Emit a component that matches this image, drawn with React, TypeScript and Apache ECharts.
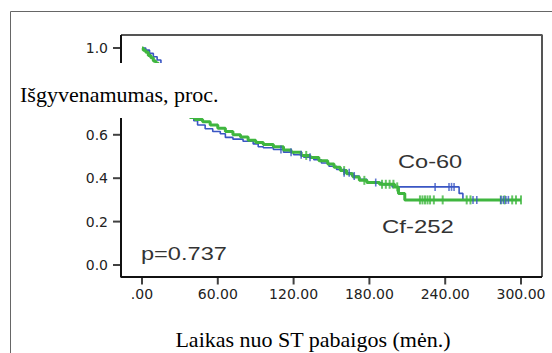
import React, { useEffect, useRef } from "react";
import * as echarts from "echarts";

// Kaplan-Meier curves (time in months, survival proportion after each event)
const cfTimes = [0, 1, 3, 5, 7, 9, 11, 13, 16, 19, 22, 26, 30, 34, 38, 42, 48, 54, 60, 66, 72, 78, 84, 90, 96, 104, 112, 118, 126, 133, 140, 147, 152, 157, 162, 167, 172, 178, 188, 200, 203, 208];
const cfSurv = [1.0, 0.99, 0.98, 0.965, 0.955, 0.94, 0.93, 0.91, 0.87, 0.83, 0.79, 0.75, 0.72, 0.7, 0.68, 0.67, 0.66, 0.645, 0.63, 0.615, 0.6, 0.59, 0.575, 0.565, 0.555, 0.545, 0.53, 0.52, 0.505, 0.495, 0.48, 0.465, 0.45, 0.435, 0.42, 0.405, 0.39, 0.38, 0.372, 0.36, 0.33, 0.3];
const cfEnd = 300;

const coTimes = [0, 3, 6, 9, 12, 15, 18, 21, 25, 29, 33, 37, 41, 44, 50, 56, 62, 66, 72, 80, 88, 92, 96, 104, 112, 120, 128, 136, 142, 148, 154, 160, 166, 172, 178, 190, 198, 251, 254];
const coSurv = [1.0, 0.99, 0.975, 0.96, 0.945, 0.92, 0.88, 0.84, 0.8, 0.76, 0.72, 0.69, 0.665, 0.645, 0.628, 0.615, 0.605, 0.588, 0.58, 0.57, 0.558, 0.545, 0.54, 0.532, 0.52, 0.508, 0.497, 0.485, 0.47, 0.455, 0.44, 0.425, 0.41, 0.395, 0.38, 0.37, 0.36, 0.33, 0.3];
const coEnd = 290;

// censored observations (months)
const cfCensored = [130, 160, 176, 190, 193, 196, 199, 202, 220, 222, 224, 226, 228, 231, 238, 257, 260, 284, 287, 293, 296, 300];
const coCensored = [110, 118, 126, 133, 160, 164, 168, 185, 232, 243, 245, 247, 262, 265, 284, 286, 288, 290];

const xTickValues = [0, 60, 120, 180, 240, 300];
const yTickValues = [0, 0.2, 0.4, 0.6, 0.8, 1.0];
// 0.8 lies under the y-axis title's white box in the reference
const yLabelValues = [0, 0.2, 0.4, 0.6, 1.0];

const yTitle = "Išgyvenamumas, proc.";
const xTitle = "Laikas nuo ST pabaigos (mėn.)";
const labelCo = "Co-60";
const labelCf = "Cf-252";
const labelP = "p=0.737";

const GREEN = "#3fb63f";
const BLUE = "#3a56c4";

const X_MIN = -16.6;
const X_MAX = 316.6;
const Y_MIN = -0.0553;
const Y_MAX = 1.0599;

function survivalAt(times: number[], vals: number[], t: number): number {
  let v = vals[0];
  for (let i = 0; i < times.length; i++) {
    if (times[i] <= t) v = vals[i];
  }
  return v;
}

function stepData(times: number[], vals: number[], end: number) {
  const d = times.map((t, i) => [t, vals[i]]);
  d.push([end, vals[vals.length - 1]]);
  return d;
}

export default function App() {
  const ref = useRef<HTMLDivElement>(null);
  useEffect(() => {
    if (!ref.current) return;
    const chart = echarts.init(ref.current, undefined, { renderer: "svg" });
    const sans = "Liberation Sans";
    const serif = "Liberation Serif";
    const frameSeries = (name: string, data: number[][], color: string) => ({
      type: "line",
      name,
      data,
      showSymbol: false,
      silent: true,
      clip: false,
      lineStyle: { color, width: 2 },
      z: 6,
    });
    chart.setOption({
      animation: false,
      backgroundColor: "#ffffff",
      grid: { left: 121, top: 35, right: 10, bottom: 76, show: false },
      xAxis: {
        type: "value",
        min: X_MIN,
        max: X_MAX,
        splitLine: { show: false },
        axisLine: { show: false },
        axisTick: { show: false },
        axisLabel: {
          customValues: xTickValues,
          margin: 10,
          fontFamily: "DejaVu Sans",
          fontSize: 14,
          color: "#222",
          formatter: (v: number) => (v === 0 ? ".00" : v.toFixed(2)),
        },
      },
      yAxis: {
        type: "value",
        min: Y_MIN,
        max: Y_MAX,
        splitLine: { show: false },
        axisLine: { show: false },
        axisTick: { show: false },
        axisLabel: {
          customValues: yLabelValues,
          margin: 13,
          fontFamily: "DejaVu Sans",
          fontSize: 14,
          color: "#222",
          formatter: (v: number) => v.toFixed(1),
        },
      },
      series: [
        {
          type: "line",
          name: "Co-60",
          step: "end",
          showSymbol: false,
          data: stepData(coTimes, coSurv, coEnd),
          lineStyle: { color: BLUE, width: 1.6 },
          z: 2,
        },
        {
          type: "line",
          name: "Cf-252",
          step: "end",
          showSymbol: false,
          data: stepData(cfTimes, cfSurv, cfEnd),
          lineStyle: { color: GREEN, width: 3 },
          z: 3,
        },
        {
          type: "scatter",
          name: "Cf-252 censored",
          symbol: "rect",
          symbolSize: [2, 9],
          itemStyle: { color: GREEN },
          data: cfCensored.map((t) => [t, survivalAt(cfTimes, cfSurv, t)]),
          z: 4,
        },
        {
          type: "scatter",
          name: "Co-60 censored",
          symbol: "rect",
          symbolSize: [1.6, 8],
          itemStyle: { color: BLUE },
          data: coCensored.map((t) => [t, survivalAt(coTimes, coSurv, t)]),
          z: 5,
        },
        // plot box: top and right in grey, axis lines left and bottom in black
        frameSeries("box", [[X_MIN, Y_MAX], [X_MAX, Y_MAX], [X_MAX, Y_MIN]], "#555"),
        frameSeries("axes", [[X_MIN, Y_MAX], [X_MIN, Y_MIN], [X_MAX, Y_MIN]], "#111"),
        // tick marks at the axis values
        {
          type: "scatter",
          name: "x ticks",
          silent: true,
          clip: false,
          symbol: "rect",
          symbolSize: [2, 7],
          symbolOffset: [0, 4],
          itemStyle: { color: "#111" },
          data: xTickValues.map((v) => [v, Y_MIN]),
          z: 6,
        },
        {
          type: "scatter",
          name: "y ticks",
          silent: true,
          clip: false,
          symbol: "rect",
          symbolSize: [8, 2],
          symbolOffset: [-4, 0],
          itemStyle: { color: "#111" },
          data: yTickValues.map((v) => [X_MIN, v]),
          z: 6,
        },
      ],
      graphic: [
        {
          type: "polyline",
          silent: true,
          shape: { points: [[10.5, 400], [10.5, 11.5], [600, 11.5]] },
          style: { stroke: "#666", lineWidth: 1, fill: null },
        },
        {
          type: "rect",
          z: 100,
          silent: true,
          shape: { x: 12, y: 63, width: 236, height: 55 },
          style: { fill: "#ffffff" },
        },
        {
          type: "text",
          z: 101,
          x: 20,
          y: 94,
          style: { text: yTitle, fontFamily: serif, fontSize: 22, fill: "#000", textAlign: "left", verticalAlign: "middle" },
        },
        {
          type: "text",
          z: 101,
          x: 313,
          y: 339,
          style: { text: xTitle, fontFamily: serif, fontSize: 22, fill: "#000", textAlign: "center", verticalAlign: "middle" },
        },
        {
          type: "text",
          z: 101,
          x: 398,
          y: 162,
          scaleX: 1.31,
          style: { text: labelCo, fontFamily: sans, fontSize: 18, fill: "#333", textAlign: "left", verticalAlign: "middle" },
        },
        {
          type: "text",
          z: 101,
          x: 382,
          y: 227,
          scaleX: 1.33,
          style: { text: labelCf, fontFamily: sans, fontSize: 18, fill: "#333", textAlign: "left", verticalAlign: "middle" },
        },
        {
          type: "text",
          z: 101,
          x: 141,
          y: 254,
          scaleX: 1.31,
          style: { text: labelP, fontFamily: sans, fontSize: 18, fill: "#333", textAlign: "left", verticalAlign: "middle" },
        },
      ],
    });
    return () => chart.dispose();
  }, []);
  return <div ref={ref} style={{ position: "fixed", left: 0, top: 0, width: 552, height: 353 }} />;
}
